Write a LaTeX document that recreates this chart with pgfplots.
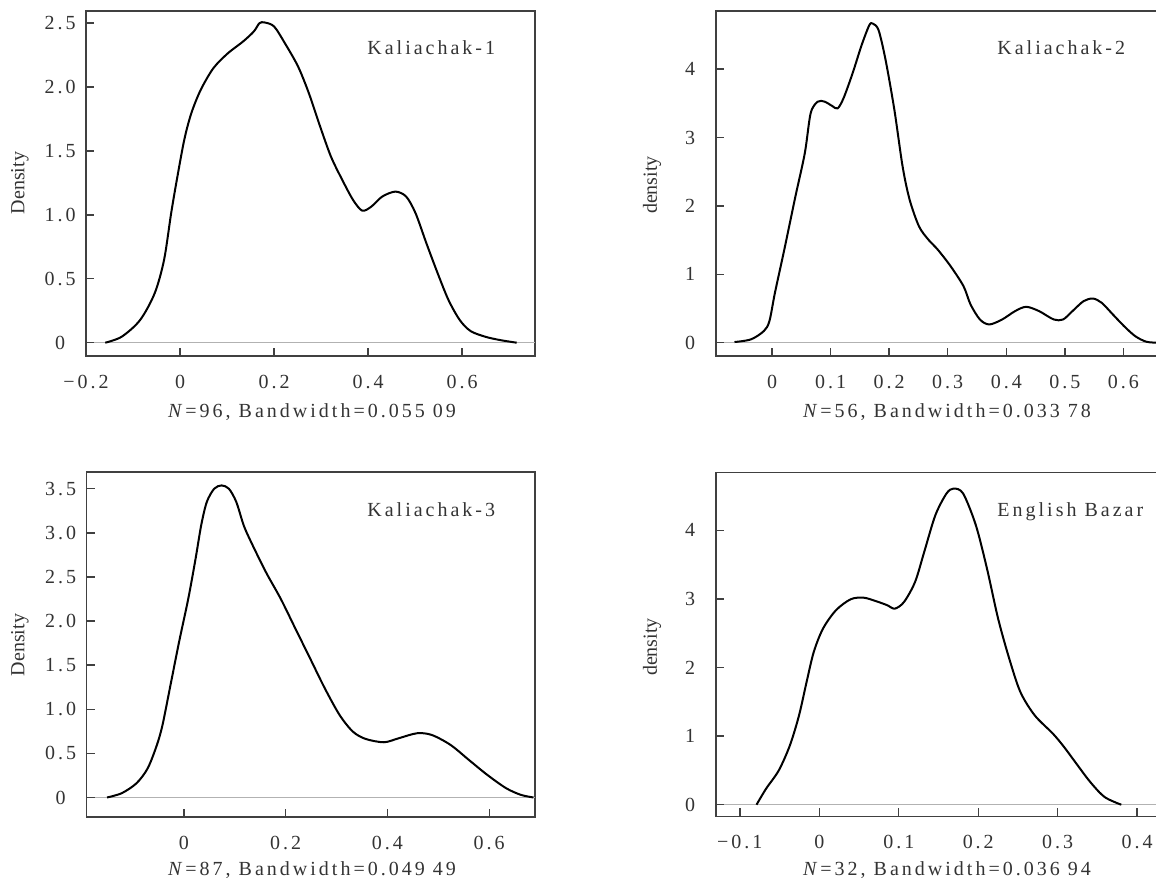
\documentclass[border=0pt]{standalone}
\usepackage{fontspec}
\setmainfont{Liberation Serif}
\newfontfamily\spaced{Liberation Serif}[LetterSpace=15]
\usepackage{pgfplots}
\pgfplotsset{compat=1.18}
\newcommand{\fs}{\fontsize{10}{12}\selectfont}

\pgfplotsset{
  kd/.style={
    scale only axis, anchor=south west,
    tick align=inside, major tick length=4pt,
    xtick pos=bottom, ytick pos=left,
    axis line style={black!75, line width=0.8pt},
    tick style={black!75, line width=0.7pt},
    ticklabel style={font=\fs\spaced, text=black!80, anchor=center},
    xticklabel style={yshift=-13pt},
    yticklabel style={xshift=-13pt},
    extra y ticks={0}, extra y tick labels={},
    extra y tick style={grid=major, major grid style={black!30, line width=0.5pt}},
  },
  kurve/.style={black, line width=1pt, smooth},
}

\begin{document}
\begin{tikzpicture}[x=0.5pt,y=0.5pt]

% Kaliachak-1
\begin{axis}[kd, at={(43pt,264pt)}, width=224.5pt, height=172.5pt,
  xmin=-0.2, xmax=0.755, ymin=-0.104, ymax=2.595,
  xtick={-0.2,0,0.2,0.4,0.6}, xticklabels={−0.2,0,0.2,0.4,0.6},
  ytick={0,0.5,1,1.5,2,2.5}, yticklabels={0,0.5,1.0,1.5,2.0,2.5}]
\addplot[kurve] coordinates {
(-0.159,0) (-0.124,0.047) (-0.085,0.177) (-0.054,0.386) (-0.034,0.647)
(-0.019,1.01) (-0.007,1.27) (0.009,1.587) (0.024,1.795) (0.044,1.978)
(0.071,2.148) (0.102,2.265) (0.134,2.356) (0.157,2.435) (0.169,2.5)
(0.18,2.505) (0.2,2.474) (0.223,2.343) (0.251,2.161) (0.274,1.952)
(0.298,1.691) (0.321,1.456) (0.345,1.274) (0.368,1.117) (0.3875,1.033)
(0.407,1.065) (0.43,1.143) (0.458,1.182) (0.481,1.143) (0.501,1.0125)
(0.524,0.778) (0.548,0.543) (0.571,0.334) (0.595,0.177) (0.618,0.091)
(0.649,0.047) (0.68,0.021) (0.716,0)};
\end{axis}

% Kaliachak-2
\begin{axis}[kd, at={(358pt,264pt)}, width=224.5pt, height=172.5pt,
  xmin=-0.0956, xmax=0.671, ymin=-0.194, ymax=4.85,
  xtick={0,0.1,0.2,0.3,0.4,0.5,0.6}, xticklabels={0,0.1,0.2,0.3,0.4,0.5,0.6},
  ytick={0,1,2,3,4}, yticklabels={0,1,2,3,4}]
\addplot[kurve] coordinates {
(-0.064,0.01) (-0.036,0.049) (-0.014,0.17) (-0.0044,0.316) (0.005,0.729)
(0.021,1.361) (0.040,2.139) (0.056,2.77) (0.066,3.354) (0.078,3.524)
(0.090,3.524) (0.103,3.46) (0.112,3.426) (0.122,3.572) (0.1375,3.937)
(0.153,4.35) (0.166,4.64) (0.172,4.666) (0.182,4.569) (0.194,4.131)
(0.209,3.402) (0.223,2.576) (0.235,2.09) (0.251,1.701) (0.267,1.507)
(0.283,1.361) (0.305,1.118) (0.327,0.826) (0.339,0.559) (0.355,0.34)
(0.371,0.267) (0.393,0.34) (0.415,0.462) (0.434,0.525) (0.456,0.462)
(0.481,0.34) (0.497,0.34) (0.513,0.462) (0.532,0.608) (0.548,0.646)
(0.563,0.583) (0.582,0.413) (0.601,0.243) (0.620,0.097) (0.639,0.015)
(0.66,0) (0.68,0)};
\end{axis}

% Kaliachak-3
\begin{axis}[kd, at={(43.35pt,33.65pt)}, width=224.15pt, height=172.35pt,
  xmin=-0.191, xmax=0.690, ymin=-0.218, ymax=3.69,
  xtick={0,0.2,0.4,0.6}, xticklabels={0,0.2,0.4,0.6},
  ytick={0,0.5,1,1.5,2,2.5,3,3.5}, yticklabels={0,0.5,1.0,1.5,2.0,2.5,3.0,3.5}]
\addplot[kurve] coordinates {
(-0.151,0) (-0.122,0.049) (-0.093,0.162) (-0.071,0.332) (-0.053,0.596)
(-0.042,0.822) (-0.0276,1.237) (-0.0094,1.765) (0.0087,2.256) (0.023,2.708)
(0.034,3.086) (0.045,3.35) (0.0595,3.5) (0.074,3.538) (0.0885,3.5)
(0.103,3.35) (0.1175,3.086) (0.132,2.897) (0.161,2.557) (0.19,2.256)
(0.219,1.916) (0.248,1.577) (0.277,1.237) (0.306,0.935) (0.332,0.747)
(0.357,0.664) (0.393,0.626) (0.422,0.671) (0.458,0.728) (0.487,0.709)
(0.524,0.596) (0.56,0.426) (0.596,0.257) (0.633,0.106) (0.662,0.03)
(0.687,0)};
\end{axis}

% English Bazar
\begin{axis}[kd, at={(358pt,33.85pt)}, width=224.5pt, height=172pt,
  xmin=-0.13, xmax=0.435, ymin=-0.169, ymax=4.845,
  xtick={-0.1,0,0.1,0.2,0.3,0.4}, xticklabels={−0.1,0,0.1,0.2,0.3,0.4},
  ytick={0,1,2,3,4}, yticklabels={0,1,2,3,4}]
\addplot[kurve] coordinates {
(-0.079,0) (-0.067,0.233) (-0.051,0.5) (-0.037,0.865) (-0.0255,1.303)
(-0.016,1.789) (-0.007,2.226) (0.0046,2.566) (0.0209,2.834) (0.0394,2.994)
(0.0556,3.018) (0.0718,2.965) (0.0858,2.906) (0.095,2.858) (0.1066,2.955)
(0.1205,3.247) (0.132,3.684) (0.146,4.219) (0.16,4.535) (0.169,4.608)
(0.181,4.535) (0.197,4.073) (0.211,3.441) (0.225,2.712) (0.239,2.129)
(0.253,1.643) (0.271,1.303) (0.294,1.035) (0.308,0.841) (0.322,0.622)
(0.341,0.33) (0.359,0.112) (0.38,0)};
\end{axis}

\begin{scope}[every node/.style={text=black!80}]
\node[font=\fs, rotate=90] at (20,701) {Density};
\node[font=\fs, rotate=90] at (652,699) {density};
\node[font=\fs, rotate=90] at (20,239) {Density};
\node[font=\fs, rotate=90] at (652,237) {density};
\node[font=\fs\spaced] at (312,472) {\textit{N}=96, Bandwidth=0.055 09};
\node[font=\fs\spaced] at (947,472) {\textit{N}=56, Bandwidth=0.033 78};
\node[font=\fs\spaced] at (312,14) {\textit{N}=87, Bandwidth=0.049 49};
\node[font=\fs\spaced] at (947,14) {\textit{N}=32, Bandwidth=0.036 94};
\node[font=\fs\spaced, anchor=base west, inner sep=0pt] at (367,829) {Kaliachak-1};
\node[font=\fs\spaced, anchor=base west, inner sep=0pt] at (997,829) {Kaliachak-2};
\node[font=\fs\spaced, anchor=base west, inner sep=0pt] at (367,367) {Kaliachak-3};
\node[font=\fs\spaced, anchor=base west, inner sep=0pt] at (997,367) {English Bazar};
\end{scope}

\pgfresetboundingbox
\path[use as bounding box] (0,0) rectangle (1156,884);
\end{tikzpicture}
\end{document}
